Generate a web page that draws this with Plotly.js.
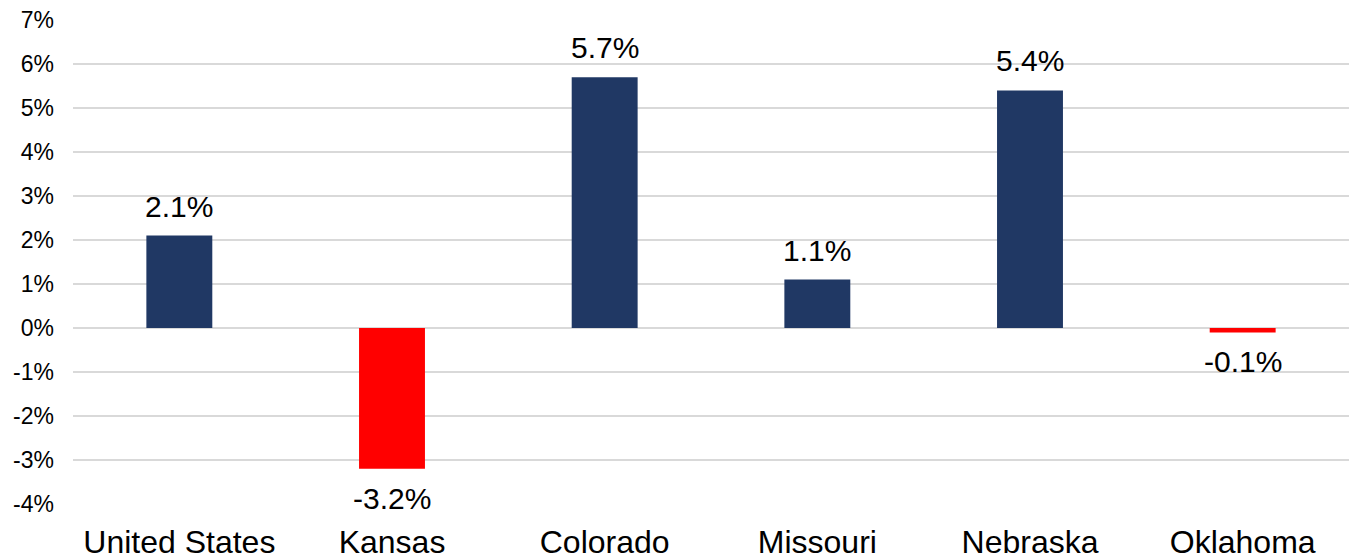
<!DOCTYPE html>
<html>
<head>
<meta charset="utf-8">
<script src="https://cdn.plot.ly/plotly-3.0.1.min.js"></script>
<style>
html,body{margin:0;padding:0;background:#fff;}
#chart{width:1350px;height:559px;}
</style>
</head>
<body>
<div id="chart"></div>
<script>
var categories = ["United States", "Kansas", "Colorado", "Missouri", "Nebraska", "Oklahoma"];
var values = [2.1, -3.2, 5.7, 1.1, 5.4, -0.1];
var posColor = "#203864";
var negColor = "#FF0000";
var yTickVals = [-4, -3, -2, -1, 0, 1, 2, 3, 4, 5, 6, 7];

var FONT = "Liberation Sans, Arial, sans-serif";

var trace = {
  type: "bar",
  x: categories,
  y: values,
  marker: {color: values.map(function(v){ return v < 0 ? negColor : posColor; })},
  width: 0.31,
  cliponaxis: false,
  hoverinfo: "none"
};

var annotations = categories.map(function(c, i){
  var v = values[i];
  return {
    x: c, y: v, xref: "x", yref: "y",
    text: v.toFixed(1) + "%",
    showarrow: false,
    yanchor: v < 0 ? "top" : "bottom",
    yshift: v < 0 ? -11 : 11,
    font: {family: FONT, size: 30, color: "#000"}
  };
});

var layout = {
  width: 1350,
  height: 559,
  margin: {l: 73, r: 1, t: 20, b: 55},
  paper_bgcolor: "#fff",
  plot_bgcolor: "#fff",
  showlegend: false,
  font: {family: FONT, color: "#000"},
  annotations: annotations,
  xaxis: {
    type: "category",
    range: [-0.5, 5.5],
    showgrid: false,
    zeroline: false,
    showline: false,
    ticks: "",
    tickfont: {size: 32, color: "#000"},
    ticklabelstandoff: 16
  },
  yaxis: {
    range: [-4, 7],
    tickvals: yTickVals,
    ticktext: yTickVals.map(function(v){ return v + "%"; }),
    showgrid: true,
    gridcolor: "#d9d9d9",
    gridwidth: 1.5,
    zeroline: false,
    showline: false,
    ticks: "",
    tickfont: {size: 23, color: "#000"},
    ticklabelstandoff: 18
  },
  bargap: 0.69
};

Plotly.newPlot("chart", [trace], layout, {displayModeBar: false, staticPlot: true});
</script>
</body>
</html>
